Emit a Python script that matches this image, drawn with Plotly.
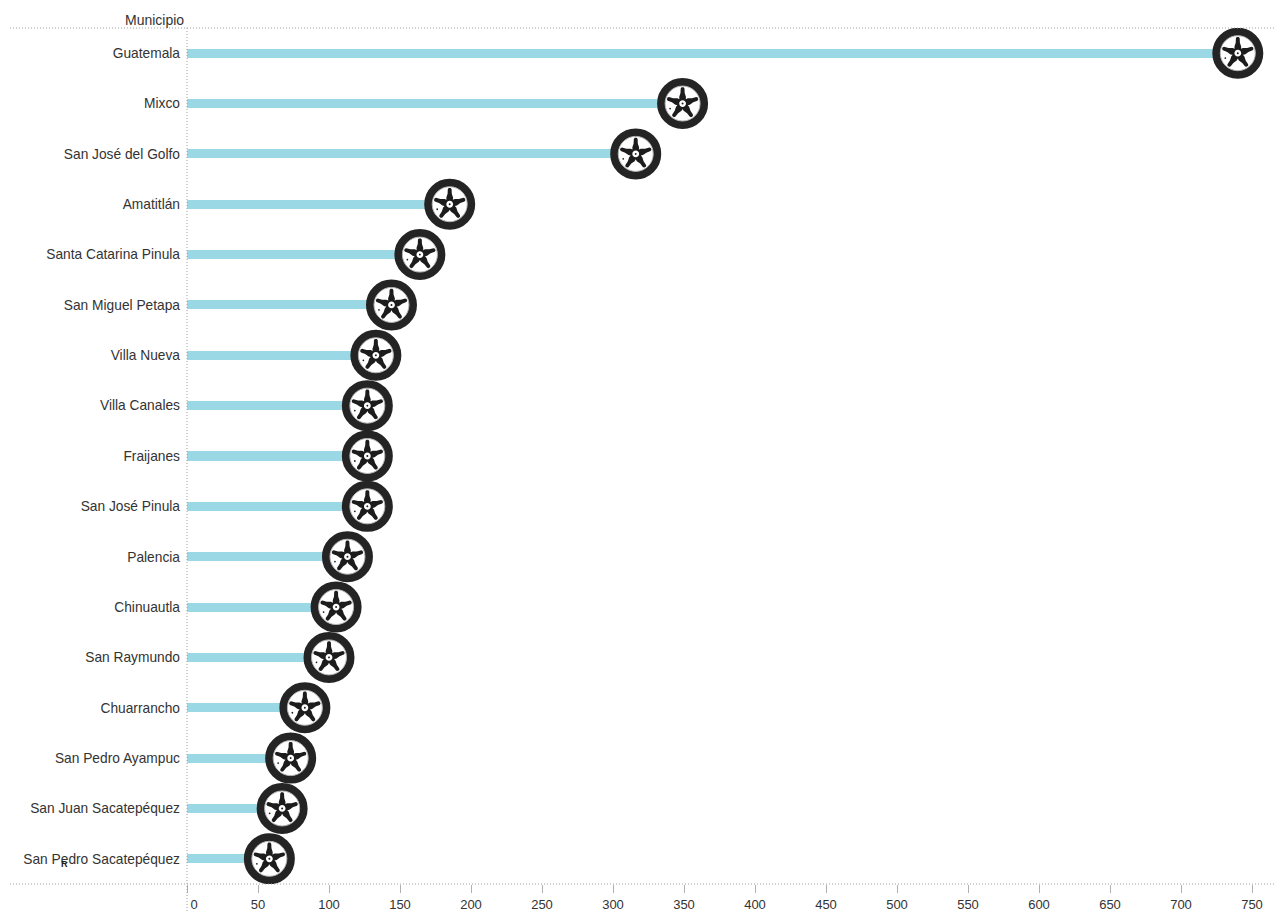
import math
import plotly.graph_objects as go

municipios = ["Guatemala", "Mixco", "San José del Golfo", "Amatitlán", "Santa Catarina Pinula",
              "San Miguel Petapa", "Villa Nueva", "Villa Canales", "Fraijanes", "San José Pinula",
              "Palencia", "Chinuautla", "San Raymundo", "Chuarrancho", "San Pedro Ayampuc",
              "San Juan Sacatepéquez", "San Pedro Sacatepéquez"]
valores = [740, 349, 316, 185, 164, 144, 133, 127, 127, 127, 113, 105, 100, 83, 73, 67, 58]
tick_vals = list(range(0, 751, 50))
tick_text = ["\u00a0\u00a0\u00a0\u00a00"] + [str(v) for v in tick_vals[1:]]

W, H = 1276, 911
L, R, T, B = 187, 0, 28, 27
PW, PH = W - L - R, H - T - B
INK = "#333333"
TIRE = "#242424"
SPOKE = "#1c1c1c"
DOT = "#a0a0a0"


def px(x):
    return (x - L) / PW


def py(y):
    return 1 - (y - T) / PH


def ring(cx, cy, r, n=16):
    pts = [(cx + r * math.cos(2 * math.pi * i / n), cy + r * math.sin(2 * math.pi * i / n))
           for i in range(n)]
    return "M" + " L".join(f"{x:.2f},{y:.2f}" for x, y in pts) + " Z"


def wheel_glyph():
    """Five-spoke rim as a pixel-unit path; the hub hole relies on even-odd filling."""
    outline = []
    for k in range(5):
        t = math.radians(90 - 72 * k)
        ux, uy = math.cos(t), math.sin(t)
        vx, vy = uy, -ux
        for along, across in [(6.5, -3.4), (10.5, -2.1), (15.0, -1.9), (16.2, -1.0),
                              (16.2, 1.0), (15.0, 1.9), (10.5, 2.1), (6.5, 3.4)]:
            outline.append((along * ux + across * vx, along * uy + across * vy))
        t2 = t - math.radians(36)
        outline.append((5.4 * math.cos(t2), 5.4 * math.sin(t2)))
    path = "M" + " L".join(f"{x:.2f},{y:.2f}" for x, y in outline) + " Z"
    path += " " + ring(0, 0, 3.4)            # hub hole
    path += " " + ring(0, 0, 1.0, 8)         # centre cap
    path += " " + ring(-12.5, -5.0, 0.9, 8)  # valve
    return path


fig = go.Figure()

# Stems running from zero to each municipality's value
fig.add_bar(x=valores, y=municipios, orientation="h", width=0.18,
            marker=dict(color="#9bd8e5", line_width=0), hoverinfo="x+y")

# Tire and rim circle at the tip of each stem
fig.add_scatter(x=valores, y=municipios, mode="markers", hoverinfo="skip", showlegend=False,
                marker=dict(symbol="circle", size=43, color="white",
                            line=dict(color=TIRE, width=8)))
fig.add_scatter(x=valores, y=municipios, mode="markers", hoverinfo="skip", showlegend=False,
                marker=dict(symbol="circle-open", size=35, color="#b5b5b5", line=dict(width=1)))

# Spokes anchored to each value, sized in pixels
glyph = wheel_glyph()
for m, v in zip(municipios, valores):
    fig.add_shape(type="path", xsizemode="pixel", ysizemode="pixel", xanchor=v, yanchor=m,
                  path=glyph, fillcolor=SPOKE, line_width=0, layer="above")

rule = dict(color=DOT, width=1, dash="1px,2px")
fig.add_shape(type="line", xref="paper", yref="paper", x0=px(10), x1=1, y0=1, y1=1, line=rule)
fig.add_shape(type="line", xref="paper", yref="paper", x0=px(10), x1=1, y0=0, y1=0, line=rule)
fig.add_shape(type="line", xref="paper", yref="paper", x0=0, x1=0, y0=1, y1=py(911), line=rule)

fig.add_annotation(text="Municipio", xref="paper", yref="paper", x=px(185.5), y=py(20),
                   xanchor="right", yanchor="middle", showarrow=False,
                   font=dict(size=14, color=INK))
fig.add_annotation(text="<b>R</b>", xref="paper", yref="paper", x=px(64), y=py(864),
                   xanchor="center", yanchor="middle", showarrow=False,
                   font=dict(size=9, color="#222222"))

fig.update_layout(
    width=W, height=H, autosize=False,
    margin=dict(l=L, r=R, t=T, b=B, pad=0),
    paper_bgcolor="white", plot_bgcolor="white",
    showlegend=False, bargap=0,
    font=dict(family="Liberation Sans, Arial, sans-serif", size=13, color=INK),
    xaxis=dict(range=[0, PW / 1.42], tickvals=tick_vals, ticktext=tick_text,
               ticks="outside", ticklen=8, tickcolor="#b0b0b0", tickwidth=1,
               showgrid=False, zeroline=False, showline=False, tickangle=0,
               tickfont=dict(size=13, color=INK)),
    yaxis=dict(categoryorder="array", categoryarray=municipios,
               range=[len(municipios) - 0.5, -0.5],
               showgrid=False, zeroline=False, showline=False, ticks="",
               ticklabelstandoff=6, tickfont=dict(size=13.75, color=INK)),
)

fig.write_html("out.html")
